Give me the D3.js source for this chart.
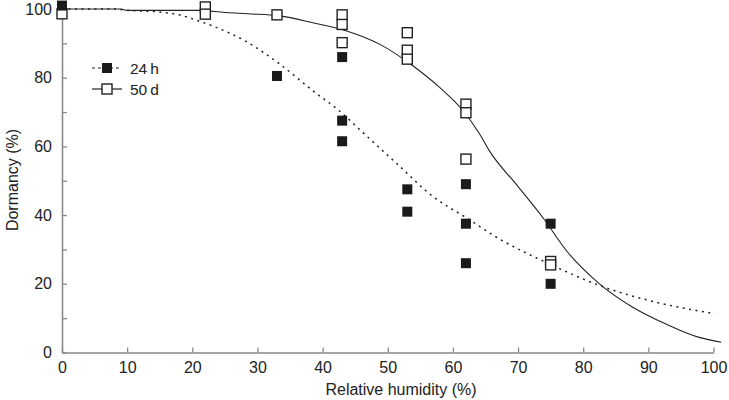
<!DOCTYPE html>
<html><head><meta charset="utf-8">
<script src="https://cdn.jsdelivr.net/npm/d3@7"></script>
<style>body{margin:0;background:#fff}svg{display:block}text{font-family:"Liberation Sans",Arial,sans-serif}</style>
</head><body><svg id="c" width="729" height="400"></svg>
<script>
// Observed data
const x24 = [0, 33, 43, 43, 43, 53, 53, 62, 62, 62, 75, 75];
const y24 = [101, 80.5, 86, 67.5, 61.5, 47.5, 41, 49, 37.5, 26, 37.5, 20];
const x50 = [0, 22, 22, 33, 43, 43, 43, 53, 53, 53, 62, 62, 62, 75, 75];
const y50 = [98.6, 100.6, 98.5, 98.3, 98.3, 95.5, 90.2, 93.1, 88, 85.4, 72.3, 69.8, 56.3, 26.5, 25.5];
// Fitted curves
const fit24x = [0, 8, 10, 14.5, 18, 21, 23.2, 28.3, 33.4, 38.5, 42.6, 46.2, 51.5, 57, 62, 67.2, 74.8, 82.5, 90.2, 100.2];
const fit24y = [100, 100, 99.6, 99.2, 98.3, 96.5, 95, 90.5, 84, 76.2, 70.3, 64, 54.8, 45.3, 39.3, 33, 25.8, 19.5, 15.1, 11.3];
const fit50x = [0, 9, 10, 21, 25, 28.5, 33.4, 38.5, 43.7, 48.8, 53.9, 58, 61.6, 64.1, 65.6, 69.7, 73.8, 77.4, 82.5, 87.6, 92.7, 97.8, 101.2];
const fit50y = [100, 100, 99.6, 99.6, 99, 98.6, 98, 96, 93.6, 89.7, 83.4, 77.1, 70.3, 63.6, 58.7, 49, 39.3, 29.7, 20, 13.2, 8.3, 4.4, 3.0];
const xTicks = [0, 10, 20, 30, 40, 50, 60, 70, 80, 90, 100];
const yTicks = [0, 10, 20, 30, 40, 50, 60, 70, 80, 90, 100];
const yTickLabels = ["0", "", "20", "", "40", "", "60", "", "80", "", "100"];
const seriesNames = ["24\u2009h", "50\u2009d"];

const svg = d3.select("#c");
const x = d3.scaleLinear().domain([0, 100]).range([62, 713.5]);
const y = d3.scaleLinear().domain([0, 100]).range([352.5, 9]);
const axisCol = "#8a8a8a", textCol = "#222";

const gx = svg.append("g").attr("transform", `translate(0,${y(0)})`)
  .call(d3.axisBottom(x).tickValues(xTicks).tickFormat(d3.format("d")).tickSizeInner(-5).tickSizeOuter(0).tickPadding(9));
const gy = svg.append("g").attr("transform", `translate(${x(0)},0)`)
  .call(d3.axisLeft(y).tickValues(yTicks).tickFormat((d, i) => yTickLabels[i]).tickSizeInner(-5).tickSizeOuter(0).tickPadding(10));
[gx, gy].forEach(g => {
  g.select(".domain").attr("stroke", axisCol).attr("stroke-width", 1.6);
  g.selectAll(".tick line").attr("stroke", axisCol).attr("stroke-width", 1.3);
  g.selectAll(".tick text").attr("fill", textCol).style("font-size", "16px").style("font-family", '"Liberation Sans",Arial,sans-serif');
});

svg.append("text").attr("x", 401).attr("y", 395).attr("text-anchor", "middle")
  .attr("fill", textCol).style("font-size", "16px").text("Relative humidity (%)");
svg.append("text").attr("transform", `translate(18,180) rotate(-90)`).attr("text-anchor", "middle")
  .attr("fill", textCol).style("font-size", "16px").text("Dormancy (%)");

const line = d3.line().x(d => x(d[0])).y(d => y(d[1])).curve(d3.curveMonotoneX);
svg.append("path").datum(d3.zip(fit24x, fit24y)).attr("d", line).attr("fill", "none")
  .attr("stroke", "#222").attr("stroke-width", 1.5).attr("stroke-dasharray", "2,4.5");
svg.append("path").datum(d3.zip(fit50x, fit50y)).attr("d", line).attr("fill", "none")
  .attr("stroke", "#222").attr("stroke-width", 1.1);

const s = 10;
svg.append("g").selectAll("rect").data(d3.zip(x50, y50)).join("rect")
  .attr("x", d => x(d[0]) - s / 2).attr("y", d => y(d[1]) - s / 2).attr("width", s).attr("height", s)
  .attr("fill", "#fff").attr("stroke", "#222").attr("stroke-width", 1.4);
svg.append("g").selectAll("rect").data(d3.zip(x24, y24)).join("rect")
  .attr("x", d => x(d[0]) - s / 2).attr("y", d => y(d[1]) - s / 2).attr("width", s).attr("height", s)
  .attr("fill", "#1a1a1a");

// Legend
const lg = svg.append("g");
const rows = [{ y: 68, dash: "3,3", fill: "#1a1a1a", stroke: "none" }, { y: 89, dash: null, fill: "#fff", stroke: "#222" }];
rows.forEach((r, i) => {
  lg.append("line").attr("x1", 92).attr("x2", 122).attr("y1", r.y).attr("y2", r.y)
    .attr("stroke", "#222").attr("stroke-width", 1.2).attr("stroke-dasharray", r.dash);
  lg.append("rect").attr("x", 107 - s / 2).attr("y", r.y - s / 2).attr("width", s).attr("height", s)
    .attr("fill", r.fill).attr("stroke", r.stroke).attr("stroke-width", 1.4);
  lg.append("text").attr("x", 130).attr("y", r.y).attr("dy", "0.36em").attr("fill", textCol)
    .style("font-size", "15.5px").text(seriesNames[i]);
});
</script></body></html>
